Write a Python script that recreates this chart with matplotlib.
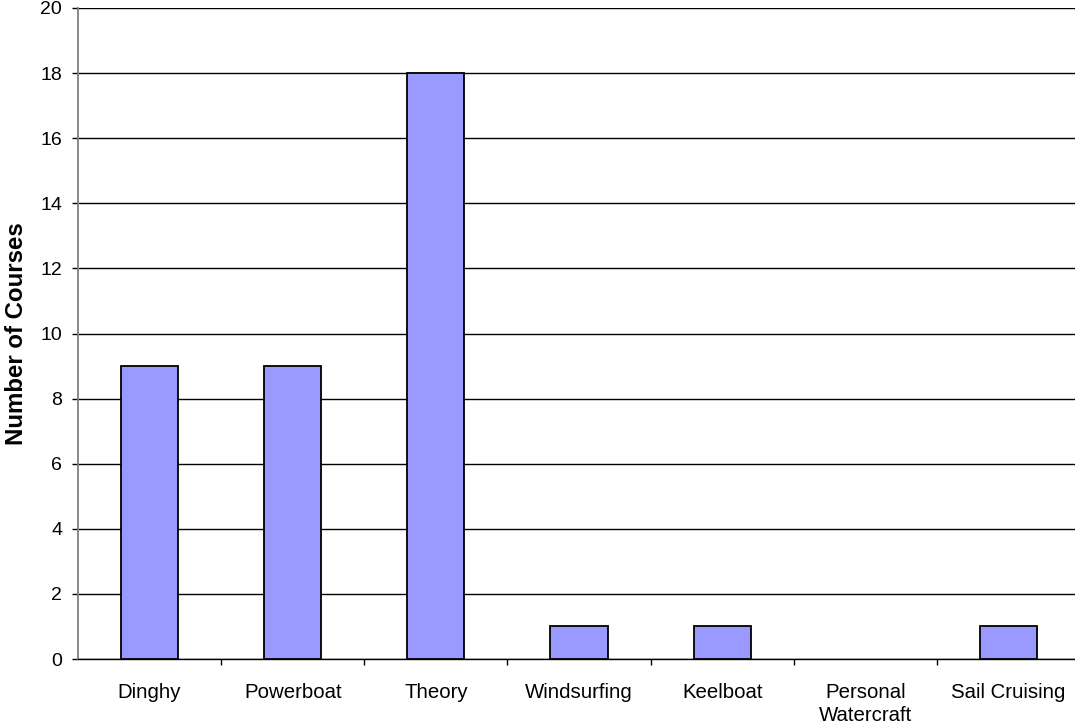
import matplotlib
matplotlib.use("Agg")
import matplotlib.pyplot as plt

categories = ["Dinghy", "Powerboat", "Theory", "Windsurfing", "Keelboat",
              "Personal\nWatercraft", "Sail Cruising"]
courses = [9, 9, 18, 1, 1, 0, 1]
y_ticks = [0, 2, 4, 6, 8, 10, 12, 14, 16, 18, 20]

plt.rcParams['font.family'] = ['Liberation Sans', 'DejaVu Sans']

fig = plt.figure(figsize=(10.75, 7.24), dpi=100)
ax = fig.add_axes([78 / 1075, 65 / 724, 1002 / 1075, 651 / 724])

x = list(range(len(categories)))
# an empty category gets no outline, so nothing shows on the baseline
edges = ["black" if v > 0 else "none" for v in courses]
ax.bar(x, courses, width=0.4, color="#9999FF", edgecolor=edges,
       linewidth=1.3, zorder=3)

ax.set_xlim(-0.5, len(categories) - 0.5)
ax.set_ylim(0, 20)
ax.set_yticks(y_ticks)
ax.set_yticklabels([str(v) for v in y_ticks], fontsize=14)
ax.yaxis.grid(True, color="black", linewidth=1.0, zorder=0)
ax.set_axisbelow(True)

# category labels sit between the tick marks, which mark category boundaries
ax.set_xticks([i + 0.5 for i in x[:-1]])
ax.set_xticklabels([])
ax.set_xticks(x, minor=True)
ax.set_xticklabels(categories, minor=True, fontsize=14.7, linespacing=1.3)
ax.tick_params(axis="x", which="minor", length=0, pad=17)
ax.tick_params(axis="x", which="major", length=4.5, width=1, color="black",
               direction="out")
ax.tick_params(axis="y", length=4.5, width=1, color="black", pad=7)

ax.spines["top"].set_visible(False)
ax.spines["right"].set_visible(False)
ax.spines["left"].set_color("#808080")
ax.spines["left"].set_linewidth(1.3)
ax.spines["bottom"].set_color("black")
ax.spines["bottom"].set_linewidth(1.0)

ax.set_ylabel("Number of Courses", fontsize=17.3, fontweight="bold")
ax.yaxis.set_label_coords(-0.05, 0.5)

fig.savefig("out.png", dpi=100)
